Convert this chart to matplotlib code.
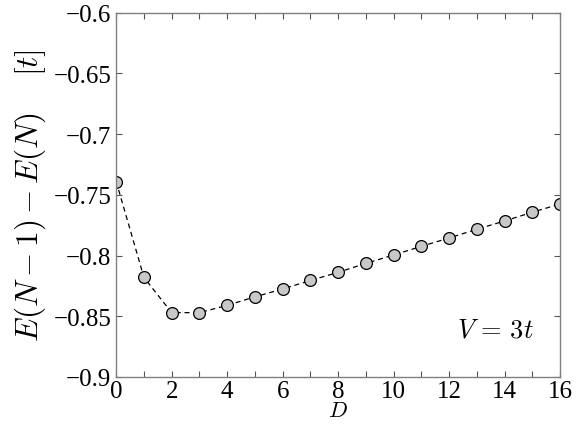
import matplotlib
matplotlib.use("Agg")
import matplotlib.pyplot as plt
import numpy as np

# data
D = list(range(17))
gap = [-0.739, -0.818, -0.847, -0.847, -0.841, -0.834, -0.8275, -0.8205,
       -0.8138, -0.8064, -0.7995, -0.7924, -0.7855, -0.7783, -0.7715,
       -0.7643, -0.7575]

plt.rcParams['font.family'] = ['Liberation Serif', 'DejaVu Serif']
plt.rcParams['mathtext.fontset'] = 'cm'

fig = plt.figure(figsize=(5.81, 4.31), dpi=100)
ax = fig.add_axes([0.2, 0.123, 0.764, 0.845])

ax.plot(D, gap, '--', color='black', lw=0.9, dashes=(4, 3),
        marker='o', ms=8.5, mfc='#c8c8c8', mec='black', mew=0.9)

ax.set_xlim(0, 16)
ax.set_ylim(-0.9, -0.6)
ax.set_xticks(np.arange(0, 17, 2))
ax.set_xticks(np.arange(0, 17, 1), minor=True)
ax.set_yticks([-0.9, -0.85, -0.8, -0.75, -0.7, -0.65, -0.6])
ax.set_yticklabels(['\u22120.9', '\u22120.85', '\u22120.8', '\u22120.75',
                    '\u22120.7', '\u22120.65', '\u22120.6'])
ax.tick_params(which='both', direction='in', top=True, right=True,
               labelsize=18, length=4, width=0.8, color='#555555')
ax.tick_params(axis='x', pad=2)
for s in ax.spines.values():
    s.set_color('#808080')
    s.set_linewidth(1.0)

ax.set_ylabel(r'$E(N-1)-E(N)\quad\;[t]$', fontsize=22.5, labelpad=4)
ax.set_xlabel(r'$D$', fontsize=16, labelpad=0)
ax.text(0.94, 0.13, r'$V\,=\,3t$', transform=ax.transAxes, fontsize=19,
        ha='right', va='center')

fig.savefig('out.png', dpi=100)
